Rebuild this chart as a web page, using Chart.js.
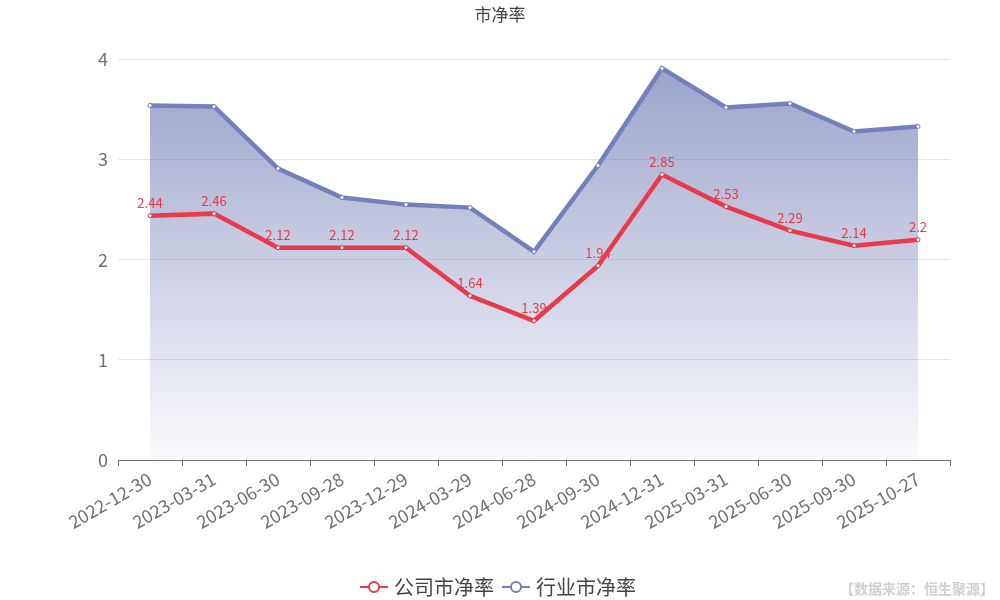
<!DOCTYPE html>
<html>
<head>
<meta charset="utf-8">
<script src="https://cdn.jsdelivr.net/npm/chart.js@4/dist/chart.umd.min.js"></script>
<style>
  html, body { margin: 0; padding: 0; background: #fff; }
  #wrap { position: relative; width: 1000px; height: 600px; }
  #src { position: absolute; right: 6px; bottom: 2px; font: bold 14px "Noto Sans CJK SC", sans-serif; color: #d0d0d0; }
</style>
</head>
<body>
<div id="wrap">
  <canvas id="chart" width="1000" height="600"></canvas>
  <div id="src">【数据来源：恒生聚源】</div>
</div>
<script>
// 报告期
const dates = ['2022-12-30', '2023-03-31', '2023-06-30', '2023-09-28', '2023-12-29', '2024-03-29',
  '2024-06-28', '2024-09-30', '2024-12-31', '2025-03-31', '2025-06-30', '2025-09-30', '2025-10-27'];
// 公司市净率
const companyPB = [2.44, 2.46, 2.12, 2.12, 2.12, 1.64, 1.39, 1.94, 2.85, 2.53, 2.29, 2.14, 2.2];
// 行业市净率
const industryPB = [3.54, 3.53, 2.91, 2.62, 2.55, 2.52, 2.08, 2.94, 3.91, 3.52, 3.56, 3.28, 3.33];

const FONT = '"Noto Sans CJK SC", "Noto Sans", sans-serif';
const RED = '#e83a4a';
const BLUE = '#7380ba';

// legend icon: line with hollow circle
function legendIcon(color) {
  const c = document.createElement('canvas');
  c.width = 30; c.height = 14;
  const g = c.getContext('2d');
  g.strokeStyle = color; g.lineWidth = 2;
  g.beginPath(); g.moveTo(1, 7); g.lineTo(29, 7); g.stroke();
  g.fillStyle = '#fff';
  g.beginPath(); g.arc(15, 7, 5, 0, Math.PI * 2); g.fill(); g.stroke();
  return c;
}
const icons = [legendIcon(RED), legendIcon(BLUE)];

// value labels for company series: above the area fill, below the red line
const valueLabels = {
  id: 'valueLabels',
  afterDatasetDraw(chart, args) {
    if (args.index !== 1) return;
    const ctx = chart.ctx;
    const meta = chart.getDatasetMeta(0);
    ctx.save();
    ctx.font = '13px ' + FONT;
    ctx.fillStyle = RED;
    ctx.textAlign = 'center';
    ctx.textBaseline = 'bottom';
    meta.data.forEach((pt, i) => {
      ctx.fillText(String(companyPB[i]), pt.x, pt.y - 6);
    });
    ctx.restore();
  }
};

const ctx = document.getElementById('chart');
new Chart(ctx, {
  type: 'line',
  data: {
    labels: dates,
    datasets: [
      {
        label: '公司市净率',
        data: companyPB,
        borderColor: RED,
        backgroundColor: '#fff',
        borderWidth: 4.5,
        pointRadius: 2,
        pointBorderWidth: 1,
        pointBackgroundColor: '#fff',
        pointBorderColor: RED,
        tension: 0,
        order: 0
      },
      {
        label: '行业市净率',
        data: industryPB,
        borderColor: BLUE,
        borderWidth: 4.5,
        pointRadius: 2,
        pointBorderWidth: 1,
        pointBackgroundColor: '#fff',
        pointBorderColor: BLUE,
        fill: 'origin',
        backgroundColor: (c) => {
          const area = c.chart.chartArea;
          if (!area) return 'rgba(115,128,186,0.5)';
          const g = c.chart.ctx.createLinearGradient(0, area.top, 0, area.bottom);
          g.addColorStop(0, 'rgba(120,130,185,0.75)');
          g.addColorStop(1, 'rgba(120,130,185,0.03)');
          return g;
        },
        tension: 0,
        order: 1
      }
    ]
  },
  options: {
    responsive: false,
    animation: false,
    layout: { padding: { left: 50, right: 50, top: 0, bottom: -7 } },
    plugins: {
      title: {
        display: true,
        text: '市净率',
        color: '#444',
        font: { family: FONT, size: 17, weight: 'normal' },
        padding: { top: 4, bottom: 35 }
      },
      legend: {
        position: 'bottom',
        labels: {
          usePointStyle: true,
          color: '#444',
          font: { family: FONT, size: 20 },
          padding: 12,
          generateLabels(chart) {
            return chart.data.datasets.map((ds, i) => ({
              text: ds.label,
              fontColor: '#444',
              pointStyle: icons[i],
              datasetIndex: i,
              lineWidth: 0,
              strokeStyle: 'transparent',
              fillStyle: 'transparent'
            }));
          }
        }
      },
      tooltip: { enabled: false }
    },
    scales: {
      x: {
        offset: true,
        grid: { offset: true, drawOnChartArea: false, drawTicks: true, tickLength: 6, color: '#6e7079' },
        border: { color: '#6e7079' },
        ticks: {
          color: '#6e7079',
          font: { family: FONT, size: 18 },
          maxRotation: 30,
          minRotation: 30,
          autoSkip: false,
          padding: 2
        },
        afterFit(scale) { scale.height = 105; }
      },
      y: {
        min: 0,
        max: 4,
        ticks: { stepSize: 1, color: '#6e7079', font: { family: FONT, size: 18 }, padding: 10 },
        grid: { color: '#e0e6f1', drawTicks: false },
        border: { display: false },
        afterFit(scale) { scale.width = 68; }
      }
    }
  },
  plugins: [valueLabels]
});
</script>
</body>
</html>
